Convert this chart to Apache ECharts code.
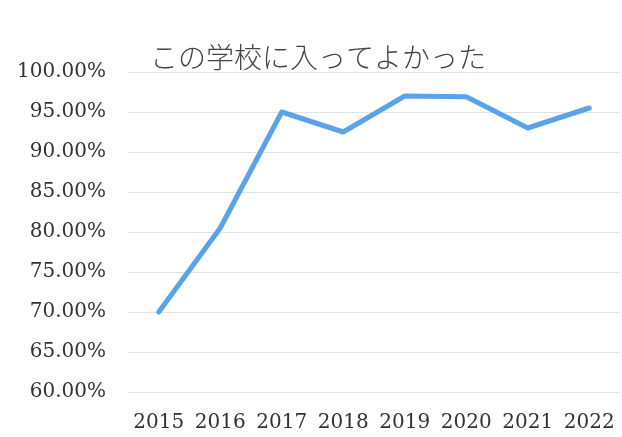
<!DOCTYPE html>
<html><head><meta charset="utf-8">
<script src="https://cdn.jsdelivr.net/npm/echarts@6/dist/echarts.min.js"></script>
<style>html,body{margin:0;padding:0;background:#fff}#c{width:622px;height:437px}</style>
</head><body><div id="c"></div>
<script>
const titleText = "この学校に入ってよかった";
const categories = ["2015","2016","2017","2018","2019","2020","2021","2022"];
const values = [0.700, 0.805, 0.950, 0.925, 0.970, 0.969, 0.930, 0.955];
const yMin = 0.60, yMax = 1.00, yStep = 0.05;

const chart = echarts.init(document.getElementById('c'), null, {renderer:'canvas'});
chart.setOption({
  backgroundColor:'#ffffff',
  animation:false,
  title:{
    text:titleText, left:313, top:38, textAlign:'center',
    textStyle:{fontFamily:'"Noto Sans CJK JP"', fontWeight:300, fontSize:28, color:'#444'}
  },
  grid:{left:128, right:2, top:72, bottom:45},
  xAxis:{
    type:'category', data:categories, boundaryGap:true,
    axisLine:{show:false}, axisTick:{show:false},
    axisLabel:{interval:0, hideOverlap:false, fontFamily:'"DejaVu Serif"', fontSize:20, color:'#333', margin:21}
  },
  yAxis:{
    type:'value', min:yMin, max:yMax, interval:yStep,
    axisLine:{show:false}, axisTick:{show:false},
    splitLine:{lineStyle:{color:'#e2e2e2', width:1}},
    axisLabel:{fontFamily:'"DejaVu Serif"', fontSize:20, color:'#333', margin:22,
      formatter:v=>(v*100).toFixed(2)+'%'}
  },
  series:[{
    type:'line', data:values, symbol:'none',
    lineStyle:{color:'#5BA3E8', width:5, cap:'round', join:'round'}
  }]
});
</script></body></html>
